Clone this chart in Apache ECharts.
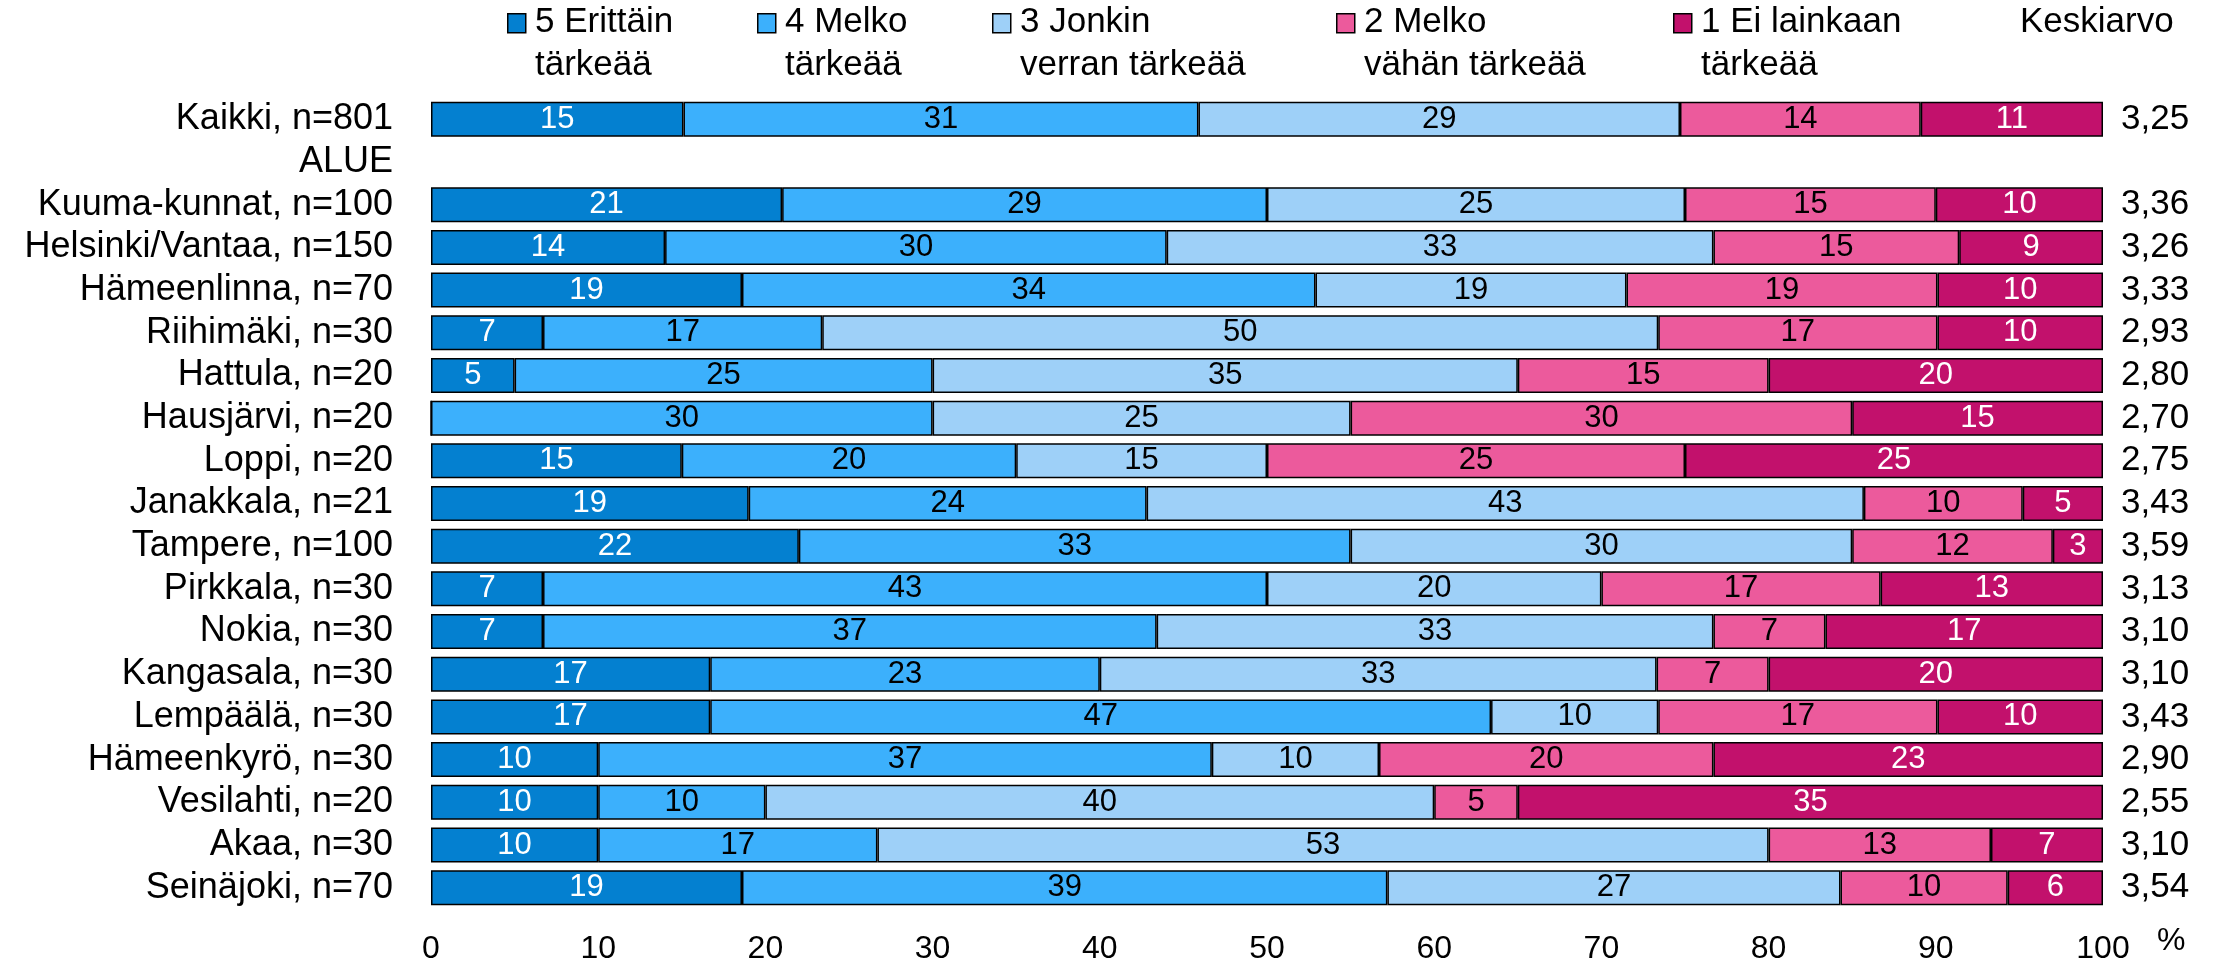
<!DOCTYPE html>
<html>
<head>
<meta charset="utf-8">
<script src="https://cdn.jsdelivr.net/npm/echarts@6/dist/echarts.min.js"></script>
<style>
  html, body { margin: 0; padding: 0; background: #fff; }
  #main { width: 2216px; height: 965px; }
</style>
</head>
<body>
<div id="main"></div>
<script>
  // rivit (ALUE = väliotsikko ilman palkkia)
  var categories = ['Kaikki, n=801', 'ALUE', 'Kuuma-kunnat, n=100', 'Helsinki/Vantaa, n=150',
    'Hämeenlinna, n=70', 'Riihimäki, n=30', 'Hattula, n=20', 'Hausjärvi, n=20', 'Loppi, n=20',
    'Janakkala, n=21', 'Tampere, n=100', 'Pirkkala, n=30', 'Nokia, n=30', 'Kangasala, n=30',
    'Lempäälä, n=30', 'Hämeenkyrö, n=30', 'Vesilahti, n=20', 'Akaa, n=30', 'Seinäjoki, n=70'];

  var averages = ['3,25', '', '3,36', '3,26', '3,33', '2,93', '2,80', '2,70', '2,75', '3,43',
    '3,59', '3,13', '3,10', '3,10', '3,43', '2,90', '2,55', '3,10', '3,54'];

  var legendNames = ['5 Erittäin\ntärkeää', '4 Melko\ntärkeää', '3 Jonkin\nverran tärkeää',
    '2 Melko\nvähän tärkeää', '1 Ei lainkaan\ntärkeää'];

  // prosentit
  var s5 = [15.1, null, 21, 14, 18.6, 6.7, 5, 0, 15, 19.0, 22, 6.7, 6.7, 16.7, 16.7, 10, 10, 10, 18.6];
  var s4 = [30.8, null, 29, 30, 34.3, 16.7, 25, 30, 20, 23.8, 33, 43.3, 36.7, 23.3, 46.7, 36.7, 10, 16.7, 38.6];
  var s3 = [28.8, null, 25, 32.7, 18.6, 50, 35, 25, 15, 42.9, 30, 20, 33.3, 33.3, 10, 10, 40, 53.3, 27.1];
  var s2 = [14.4, null, 15, 14.7, 18.6, 16.7, 15, 30, 25, 9.5, 12, 16.7, 6.7, 6.7, 16.7, 20, 5, 13.3, 10];
  var s1 = [10.9, null, 10, 8.6, 9.9, 9.9, 20, 15, 25, 4.8, 3, 13.3, 16.6, 20, 9.9, 23.3, 35, 6.7, 5.7];

  var colors = ['#0480d0', '#3cb0fc', '#9ed0f8', '#ec5a9c', '#c2116c'];
  var labelColors = ['#fff', '#000', '#000', '#000', '#fff'];
  var FONT = "'Liberation Sans', Arial, sans-serif";

  var myChart = echarts.init(document.getElementById('main'));

  var seriesData = [s5, s4, s3, s2, s1];
  var series = seriesData.map(function(d, i) {
    return {
      name: legendNames[i],
      type: 'bar',
      stack: 'all',
      barWidth: 35,
      data: d,
      itemStyle: { color: colors[i], borderColor: '#000', borderWidth: 1.5 },
      label: {
        show: true,
        position: 'inside',
        color: labelColors[i],
        fontFamily: FONT,
        fontSize: 31,
        formatter: function(p) {
          if (p.value == null || p.value === 0) return '';
          return Math.round(p.value);
        }
      }
    };
  });

  // selite piirretään käsin, jotta kaksirivinen teksti asettuu oikein
  var legendX = [507, 757, 992, 1336, 1673];
  var graphic = [];
  legendNames.forEach(function(name, i) {
    graphic.push({
      type: 'rect',
      left: legendX[i], top: 13,
      shape: { width: 18, height: 19 },
      style: { fill: colors[i], stroke: '#000', lineWidth: 1.5 }
    });
    graphic.push({
      type: 'text',
      left: legendX[i] + 28, top: 1,
      style: { text: name, font: '35px ' + FONT, fill: '#000', lineHeight: 43 }
    });
  });
  graphic.push({
    type: 'text',
    left: 2020, top: 1,
    style: { text: 'Keskiarvo', font: '35px ' + FONT, fill: '#000', lineHeight: 43 }
  });

  var option = {
    backgroundColor: '#ffffff',
    animation: false,
    textStyle: { fontFamily: FONT },
    grid: { left: 431, right: 113, top: 98, bottom: 55 },
    xAxis: {
      type: 'value',
      min: 0, max: 100, interval: 10,
      splitLine: { show: false },
      axisLine: { show: false },
      axisTick: { show: false },
      axisLabel: { color: '#000', fontSize: 32, fontFamily: FONT, margin: 24 },
      name: '%',
      nameLocation: 'end',
      nameGap: 54,
      nameTextStyle: { color: '#000', fontSize: 32, fontFamily: FONT, verticalAlign: 'top', padding: [16, 0, 0, 0] }
    },
    yAxis: [{
      type: 'category',
      data: categories,
      inverse: true,
      axisLine: { show: false },
      axisTick: { show: false },
      axisLabel: { interval: 0, color: '#000', fontSize: 36, fontFamily: FONT, margin: 38 }
    }, {
      type: 'category',
      data: averages,
      inverse: true,
      position: 'right',
      axisLine: { show: false },
      axisTick: { show: false },
      axisLabel: { interval: 0, color: '#000', fontSize: 35, fontFamily: FONT, margin: 18 }
    }],
    graphic: graphic,
    series: series
  };

  myChart.setOption(option);
</script>
</body>
</html>
